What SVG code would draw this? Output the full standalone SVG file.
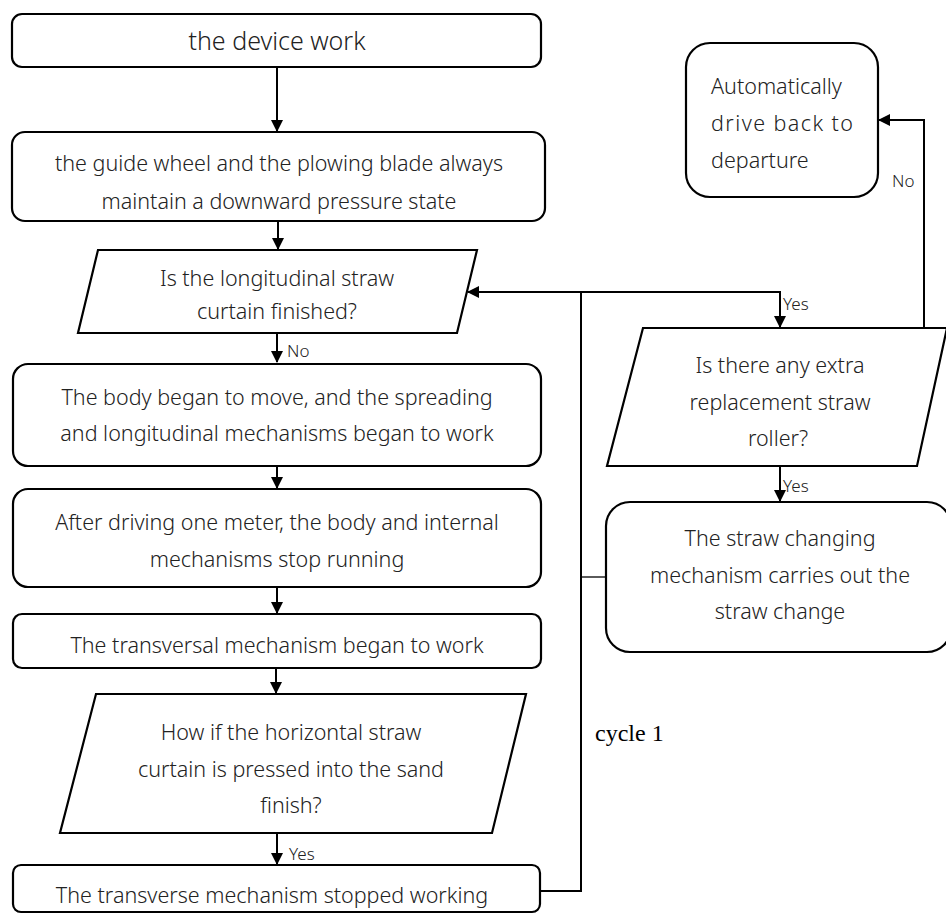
<svg xmlns="http://www.w3.org/2000/svg" width="946" height="914" viewBox="0 0 946 914">
<defs>
<marker id="ah" markerWidth="12" markerHeight="12" refX="11" refY="6" orient="auto" markerUnits="userSpaceOnUse">
<path d="M0,0 L12,6 L0,12 Z" fill="#000"/>
</marker>
<style>
.box{fill:#fff;stroke:#000;stroke-width:2.2}
.t{font-family:"Noto Sans","Open Sans",sans-serif;font-weight:300;font-size:21.5px;fill:#222;text-anchor:middle}
.lbl{font-family:"Noto Sans","Open Sans",sans-serif;font-weight:300;font-size:17px;fill:#222}
.c{fill:none;stroke:#000;stroke-width:2}
.cy{font-family:"Liberation Serif","Times New Roman",serif;font-size:24px;fill:#000}
</style>
</defs>
<rect width="946" height="914" fill="#fff"/>

<g id="connectors">
<line class="c" x1="277" y1="66" x2="277" y2="131" marker-end="url(#ah)"/>
<line class="c" x1="278" y1="221" x2="278" y2="249" marker-end="url(#ah)"/>
<line class="c" x1="277" y1="333" x2="277" y2="362" marker-end="url(#ah)"/>
<line class="c" x1="277" y1="466" x2="277" y2="488" marker-end="url(#ah)"/>
<line class="c" x1="277" y1="587" x2="277" y2="613" marker-end="url(#ah)"/>
<line class="c" x1="276" y1="668" x2="276" y2="693" marker-end="url(#ah)"/>
<line class="c" x1="277" y1="833" x2="277" y2="864" marker-end="url(#ah)"/>
<polyline class="c" points="540,891 581,891 581,292 468,292" marker-end="url(#ah)"/>
<polyline class="c" points="581,292 780,292 780,327" marker-end="url(#ah)"/>
<line class="c" x1="780" y1="466" x2="780" y2="501" marker-end="url(#ah)"/>
<polyline class="c" points="924,328 924,120 879,120" marker-end="url(#ah)"/>
<line x1="581" y1="577" x2="606" y2="577" stroke="#000" stroke-width="1.3"/>
<text class="lbl" x="287" y="357">No</text>
<text class="lbl" x="783" y="310">Yes</text>
<text class="lbl" x="783" y="492">Yes</text>
<text class="lbl" x="892" y="187">No</text>
<text class="lbl" x="289" y="860">Yes</text>
<text class="cy" x="595" y="741">cycle 1</text>
</g>

<g id="n1">
<rect class="box" x="12" y="14" width="529" height="53" rx="10"/>
<text class="t" x="277" y="50" style="font-size:25px">the device work</text>
</g>

<g id="n2">
<rect class="box" x="12" y="132" width="533" height="89" rx="13"/>
<text class="t" x="279" y="171">the guide wheel and the plowing blade always</text>
<text class="t" x="279" y="209">maintain a downward pressure state</text>
</g>

<g id="n3">
<polygon class="box" points="98,250 477,250 457,333 78,333"/>
<text class="t" x="277" y="286">Is the longitudinal straw</text>
<text class="t" x="277" y="319">curtain finished?</text>
</g>

<g id="n4">
<rect class="box" x="13" y="364" width="528" height="102" rx="15"/>
<text class="t" x="277" y="405">The body began to move, and the spreading</text>
<text class="t" x="277" y="441">and longitudinal mechanisms began to work</text>
</g>

<g id="n5">
<rect class="box" x="13" y="489" width="528" height="98" rx="15"/>
<text class="t" x="277" y="530">After driving one meter, the body and internal</text>
<text class="t" x="277" y="567">mechanisms stop running</text>
</g>

<g id="n6">
<rect class="box" x="13" y="614" width="528" height="54" rx="9"/>
<text class="t" x="277" y="653">The transversal mechanism began to work</text>
</g>

<g id="n7">
<polygon class="box" points="96,694 526,694 492,833 60,833"/>
<text class="t" x="291" y="740">How if the horizontal straw</text>
<text class="t" x="291" y="777">curtain is pressed into the sand</text>
<text class="t" x="291" y="813">finish?</text>
</g>

<g id="n8">
<rect class="box" x="13" y="865" width="527" height="47" rx="8"/>
<text class="t" x="272" y="903">The transverse mechanism stopped working</text>
</g>

<g id="n9">
<rect class="box" x="686" y="43" width="192" height="154" rx="24"/>
<text class="t" x="711" y="94" style="text-anchor:start">Automatically</text>
<text class="t" x="711" y="131" style="text-anchor:start" textLength="142" lengthAdjust="spacing">drive back to</text>
<text class="t" x="711" y="168" style="text-anchor:start">departure</text>
</g>

<g id="n10">
<polygon class="box" points="643,328 947,328 917,466 607,466"/>
<text class="t" x="780" y="373">Is there any extra</text>
<text class="t" x="780" y="410">replacement straw</text>
<text class="t" x="778" y="446">roller?</text>
</g>

<g id="n11">
<rect class="box" x="606" y="502" width="345" height="150" rx="24"/>
<text class="t" x="780" y="546">The straw changing</text>
<text class="t" x="780" y="583">mechanism carries out the</text>
<text class="t" x="780" y="619">straw change</text>
</g>
</svg>
